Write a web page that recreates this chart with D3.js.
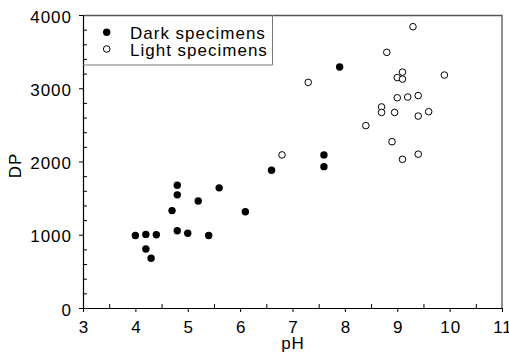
<!DOCTYPE html>
<html>
<head>
<meta charset="utf-8">
<script src="https://cdn.jsdelivr.net/npm/d3@7"></script>
<style>
  body { margin: 0; background: #fff; }
  svg { display: block; font-family: "Liberation Sans", Arial, sans-serif; }
  svg text { letter-spacing: 1px; }
</style>
</head>
<body>
<div class="chart"></div>
<script>
// values
const darkPH = [4.0, 4.2, 4.4, 4.2, 4.3, 4.8, 4.8, 4.7, 4.8, 5.0, 5.2, 5.4, 5.6, 6.1, 6.6, 7.6, 7.6, 7.9]
const darkDP = [990, 1005, 1000, 805, 680, 1675, 1545, 1330, 1055, 1020, 1460, 990, 1640, 1315, 1880, 2090, 1930, 3290]

const lightPH = [6.8, 7.3, 8.8, 9.3, 9.9, 9.1, 9.0, 9.1, 9.0, 9.2, 9.4, 8.7, 8.7, 8.95, 9.4, 9.6, 8.4, 8.9, 9.1, 9.4]
const lightDP = [2090, 3080, 3490, 3840, 3180, 3220, 3145, 3125, 2870, 2880, 2900, 2745, 2670, 2670, 2620, 2680, 2490, 2270, 2030, 2100]

const xTicks = [3, 4, 5, 6, 7, 8, 9, 10, 11]
const yTicks = [0, 1000, 2000, 3000, 4000]
const legendLabels = ['Dark specimens', 'Light specimens']

const W = 509, H = 353
const margin = {top: 15, right: 7, bottom: 45, left: 83}
const width = W - margin.left - margin.right
const height = H - margin.top - margin.bottom
const fontSize = 17

const x = d3.scaleLinear().domain([3, 11]).range([0, width])
const y = d3.scaleLinear().domain([0, 4000]).range([height, 0])

const svg = d3.select('.chart').append('svg')
    .attr('width', W)
    .attr('height', H)
  .append('g')
    .attr('transform', 'translate(' + margin.left + ',' + margin.top + ')')

// frame top / right
svg.append('path')
  .attr('d', `M0,0.5H${width}V${height}`)
  .attr('fill', 'none')
  .attr('stroke', '#555')
  .attr('stroke-width', 1.3)

// minor ticks, pointing inward
svg.append('g')
  .attr('transform', 'translate(0,' + height + ')')
  .call(d3.axisBottom(x).tickValues(d3.range(3.5, 11, 1)).tickSize(-4).tickFormat(''))
  .call(g => g.select('.domain').remove())
svg.append('g')
  .call(d3.axisLeft(y).tickValues(d3.range(200, 4000, 200).filter(v => v % 1000 !== 0)).tickSize(-4).tickFormat(''))
  .call(g => g.select('.domain').remove())

// x axis
svg.append('g')
  .attr('transform', 'translate(0,' + height + ')')
  .call(d3.axisBottom(x).tickValues(xTicks).tickSizeInner(4).tickSizeOuter(0).tickPadding(9).tickFormat(d3.format('d')))
  .call(g => g.selectAll('text')
    .attr('font-size', fontSize)
    .attr('fill', '#000')
    .attr('dx', '0.5'))

// y axis
svg.append('g')
  .call(d3.axisLeft(y).tickValues(yTicks).tickSizeInner(4).tickSizeOuter(0).tickFormat(d3.format('d')))
  .call(g => g.selectAll('text')
    .attr('font-size', fontSize)
    .attr('fill', '#000')
    .attr('x', -11)
    .attr('dy', '0.42em'))

svg.selectAll('.tick line').attr('stroke', '#000')
svg.selectAll('.domain').attr('stroke', '#000').attr('stroke-width', 1.2)

// axis titles
svg.append('text')
  .attr('transform', `translate(${width / 2 + 0.5},${334.3})`)
  .attr('text-anchor', 'middle')
  .attr('font-size', fontSize)
  .text('pH')

svg.append('text')
  .attr('transform', `translate(${20.7 - margin.left},${height / 2 + 4}) rotate(-90)`)
  .attr('text-anchor', 'middle')
  .attr('font-size', fontSize)
  .text('DP')

// points
const dark = darkPH.map((p, i) => ({pH: p, dp: darkDP[i]}))
const light = lightPH.map((p, i) => ({pH: p, dp: lightDP[i]}))

svg.append('g').selectAll('circle')
  .data(light)
  .join('circle')
    .attr('cx', d => x(d.pH))
    .attr('cy', d => y(d.dp))
    .attr('r', 3.3)
    .attr('fill', '#fff')
    .attr('stroke', '#000')
    .attr('stroke-width', 1)

svg.append('g').selectAll('circle')
  .data(dark)
  .join('circle')
    .attr('cx', d => x(d.pH))
    .attr('cy', d => y(d.dp))
    .attr('r', 3.7)
    .attr('fill', '#000')

// legend
const legend = svg.append('g')
legend.append('path')
  .attr('d', 'M0,50H189.5V0')
  .attr('fill', 'none')
  .attr('stroke', '#777')
  .attr('stroke-width', 1)

legendLabels.forEach((label, i) => {
  const cy = 17.3 + i * 16.7
  legend.append('circle')
    .attr('cx', 23.7)
    .attr('cy', cy)
    .attr('r', i === 0 ? 3.7 : 3.3)
    .attr('fill', i === 0 ? '#000' : '#fff')
    .attr('stroke', '#000')
    .attr('stroke-width', i === 0 ? 0 : 1)
  legend.append('text')
    .attr('x', 47)
    .attr('y', cy + 7)
    .attr('font-size', fontSize)
    .text(label)
})
</script>
</body>
</html>
